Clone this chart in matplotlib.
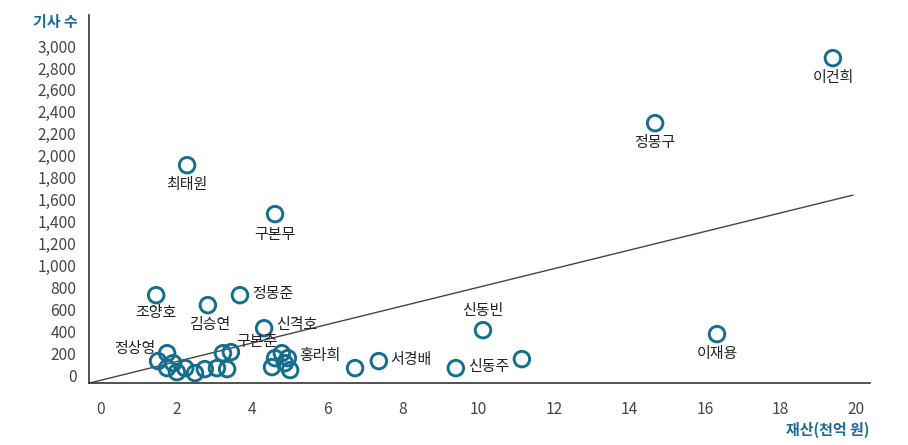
import matplotlib
matplotlib.use('Agg')
from matplotlib import pyplot as plt
from matplotlib.ticker import FuncFormatter

plt.rcParams['font.family'] = ['Noto Sans CJK KR', 'DejaVu Sans']

# 재산(천억 원) vs 기사 수
names = ['이건희', '정몽구', '최태원', '구본무', '정몽준', '조양호', '김승연', '신격호',
         '신동빈', '이재용', '서경배', '신동주', '정상영', '구본준', '홍라희']
name_x = [19.39, 14.68, 2.28, 4.61, 3.68, 1.46, 2.83, 4.32,
          10.12, 16.32, 7.36, 9.40, 1.75, 3.44, 4.95]
name_y = [2890, 2297, 1914, 1468, 729, 729, 638, 428,
          410, 374, 128, 64, 200, 210, 155]

# unlabeled people
other_x = [1.51, 1.91, 1.75, 2.01, 2.23, 2.49, 2.75, 3.07, 3.34, 3.23,
           4.61, 4.79, 4.53, 4.87, 5.01, 6.73, 11.15]
other_y = [128, 109, 64, 27, 64, 18, 55, 64, 55, 200,
           155, 200, 73, 109, 46, 64, 146]

# trend line
trend_slope = 84.7
trend_intercept = -46
trend_range = [-0.32, 19.92]

x_ticks = list(range(0, 21, 2))
y_ticks = list(range(0, 3001, 200))

# label placement: offset in points, horizontal alignment
label_pos = {
    '이건희': (0, -14.5, 'center'),
    '정몽구': (0, -14.5, 'center'),
    '최태원': (0, -14.5, 'center'),
    '구본무': (0, -15, 'center'),
    '정몽준': (8.5, 0.5, 'left'),
    '조양호': (0, -13, 'center'),
    '김승연': (1.5, -14.5, 'center'),
    '신격호': (9, 2, 'left'),
    '신동빈': (0, 14, 'center'),
    '이재용': (0, -14, 'center'),
    '서경배': (8, 0.5, 'left'),
    '신동주': (9, 0.5, 'left'),
    '정상영': (-8.5, 3, 'right'),
    '구본준': (19, 7, 'center'),
    '홍라희': (8.5, 1.5, 'left'),
}

MARK = '#156e8d'
BLUE = '#1d6a96'

fig = plt.figure(figsize=(9.08, 4.45), dpi=100)
ax = fig.add_axes([0.098, 0.139, 0.860, 0.827])

tx = trend_range
ty = [trend_slope * v + trend_intercept for v in tx]
ax.plot(tx, ty, color='#444444', lw=1.0, zorder=1)

ax.scatter(other_x + name_x, other_y + name_y, s=125, facecolors='none',
           edgecolors=MARK, linewidths=2.1, zorder=3)

for n, x, y in zip(names, name_x, name_y):
    dx, dy, ha = label_pos[n]
    ax.annotate(n, (x, y), xytext=(dx, dy), textcoords='offset points',
                ha=ha, va='center', fontsize=10.8, color='#222222', zorder=4)

ax.set_xlim(-0.32, 20.37)
ax.set_ylim(-73, 3282)
ax.set_xticks(x_ticks)
ax.set_yticks(y_ticks)
ax.yaxis.set_major_formatter(FuncFormatter(lambda v, p: '{:,}'.format(int(v))))
ax.tick_params(length=0, labelsize=11.2, labelcolor='#444444')
ax.tick_params(axis='x', pad=13)
ax.tick_params(axis='y', pad=9)

for s in ['top', 'right']:
    ax.spines[s].set_visible(False)
for s in ['left', 'bottom']:
    ax.spines[s].set_color('#333333')
    ax.spines[s].set_linewidth(1.2)

fig.text(0.085, 0.951, '기사 수', ha='right', va='center', fontsize=10.8,
         color=BLUE, fontweight='bold')
fig.text(0.957, 0.034, '재산(천억 원)', ha='right', va='center', fontsize=10.8,
         color=BLUE, fontweight='bold')

fig.savefig('out.png', dpi=100)
